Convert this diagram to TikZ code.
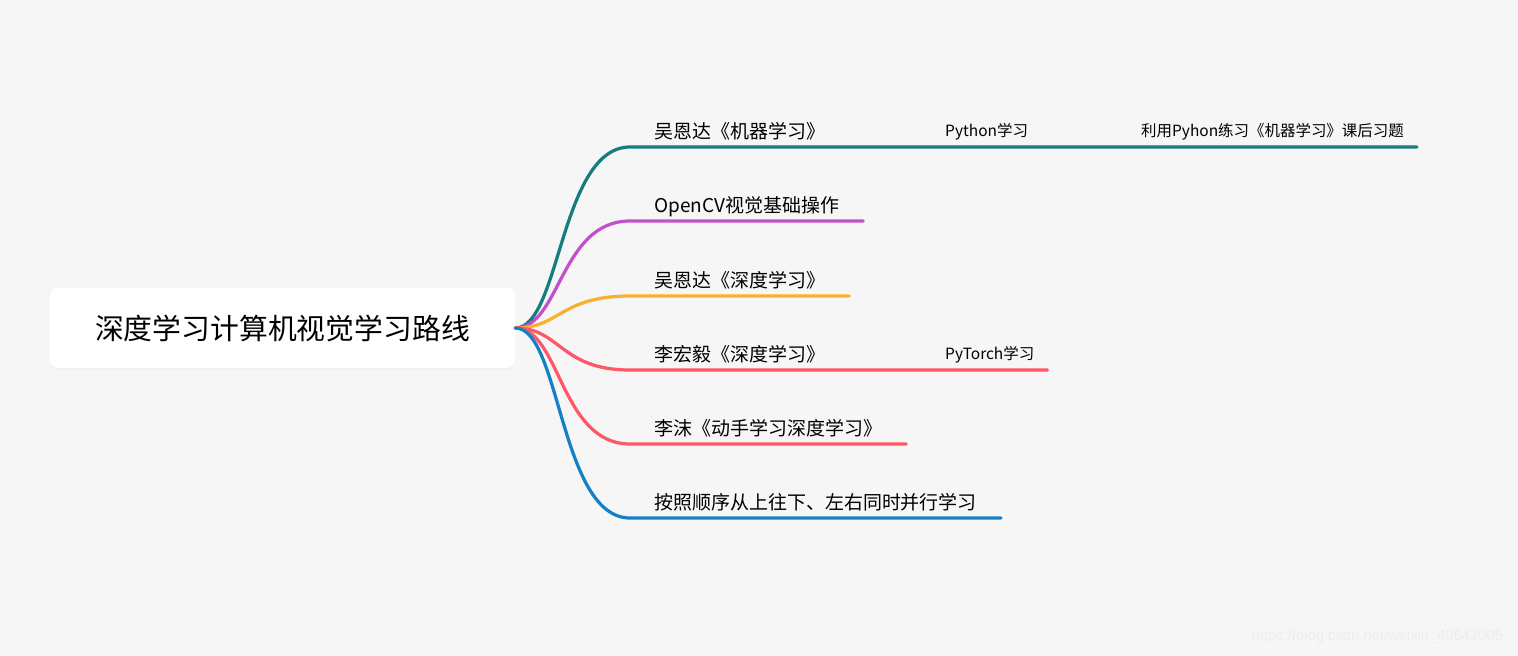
\documentclass[tikz,border=0pt]{standalone}
\usepackage{fontspec}
\newfontfamily\cjk{Noto Sans CJK SC}
\newfontfamily\wmfont{Liberation Sans}
\usetikzlibrary{positioning,calc}
\definecolor{bgcol}{HTML}{F6F6F6}
\definecolor{tealb}{HTML}{167C7C}
\definecolor{purpleb}{HTML}{C24FCB}
\definecolor{orangeb}{HTML}{F8B02E}
\definecolor{redb}{HTML}{FF5766}
\definecolor{blueb}{HTML}{1680C6}

\begin{document}
\begin{tikzpicture}[x=0.025cm, y=-0.025cm,
    every node/.style={font=\cjk},
    rootbox/.style={fill=white, rounded corners=0.2cm, minimum width=11.625cm, minimum height=2cm, font=\cjk\fontsize{20.5}{24}\selectfont, preaction={fill=black!6, transform canvas={yshift=-1.5pt}}},
    topic/.style={anchor=south west, inner xsep=17pt, inner ysep=3.5pt, text height=11.9pt, text depth=2.7pt, font=\cjk\fontsize{13.5}{16}\selectfont},
    subtopic/.style={anchor=south west, inner xsep=9.2pt, inner ysep=4.9pt, text height=9.7pt, text depth=2.2pt, font=\cjk\fontsize{11}{13}\selectfont},
    branch/.style={line width=2.3pt, line cap=round}]
    \useasboundingbox (0,0) rectangle (1518,656);
    \fill[bgcol] (0,0) rectangle (1518,656);
    \node[rootbox] (root) at (282.5,328) {深度学习计算机视觉学习路线};
    \node[topic] (wu) at (630,147) {吴恩达《机器学习》};
    \node[topic] (cv) at (630,221) {OpenCV视觉基础操作};
    \node[topic] (wudl) at (630,296) {吴恩达《深度学习》};
    \node[topic] (li) at (630,370) {李宏毅《深度学习》};
    \node[topic] (mu) at (630,444) {李沫《动手学习深度学习》};
    \node[topic] (order) at (630,518) {按照顺序从上往下、左右同时并行学习};
    \node[subtopic] (py) at (932,147) {Python学习};
    \node[subtopic] (ex) at (1128,147) {利用Pyhon练习《机器学习》课后习题};
    \node[subtopic] (pt) at (932,370) {PyTorch学习};
    \draw[branch, tealb] (root.east) .. controls +(45,0) and +(-70,0) .. (wu.south west) -- (wu.south east) -- (py.south west) -- (py.south east) -- (ex.south west) -- (ex.south east);
    \draw[branch, purpleb] (root.east) .. controls +(45,0) and +(-70,0) .. (cv.south west) -- (cv.south east);
    \draw[branch, orangeb] (root.east) .. controls +(45,0) and +(-70,0) .. (wudl.south west) -- (wudl.south east);
    \draw[branch, redb] (root.east) .. controls +(45,0) and +(-70,0) .. (li.south west) -- (li.south east) -- (pt.south west) -- (pt.south east);
    \draw[branch, redb] (root.east) .. controls +(45,0) and +(-70,0) .. (mu.south west) -- (mu.south east);
    \draw[branch, blueb] (root.east) .. controls +(45,0) and +(-70,0) .. (order.south west) -- (order.south east);
    \node[font=\wmfont\fontsize{10.5}{12}\selectfont, text=black!7, anchor=east] (wm) at (1508,637) {https://blog.csdn.net/weixin\_49642005};
\end{tikzpicture}
\end{document}
